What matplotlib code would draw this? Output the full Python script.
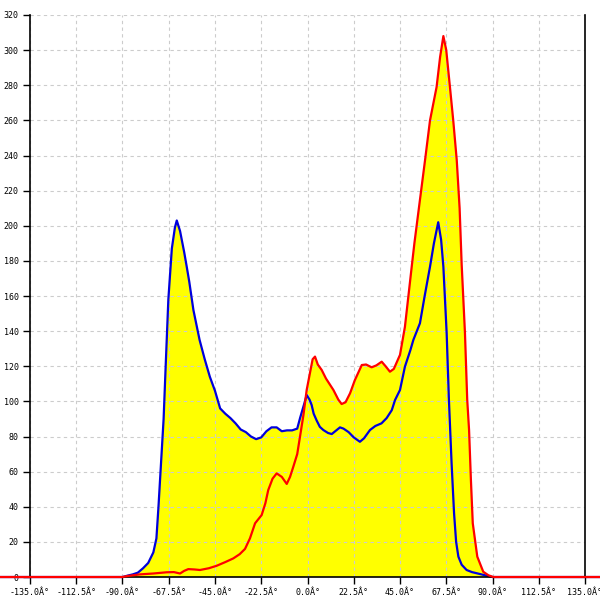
import numpy as np
import matplotlib
matplotlib.use("Agg")
import matplotlib.pyplot as plt

# Blue series (angle in degrees, count)
blue_x = [-180, -90, -87.5, -85, -82.5, -80, -77.5, -75, -73.5, -72.5, -71, -70, -69, -67.7, -66,
          -64.5, -63.6, -62, -60, -58.8, -57.5, -55.5, -52.5, -50, -47.5, -45, -42.5, -40, -37.5,
          -35, -32.5, -30, -27.5, -25, -22.5, -20, -17.5, -15, -12.5, -10, -7.5, -5, -3.5, -1.5,
          -0.4, 1, 2, 3, 4.5, 6, 7.7, 10, 11.8, 14, 15.8, 17.5, 20, 22.5, 25.5, 27.5, 30.4, 33,
          36, 38.5, 41, 42.6, 45, 47.4, 50, 51.5, 54.7, 57, 59.6, 61.5, 63.6, 65, 66.1, 67.7,
          68.8, 70.1, 71.3, 72.3, 73.4, 75, 77.4, 80, 83.9, 87, 90, 180]
blue_y = [0, 0, 0.8, 1.5, 2.5, 5, 8, 14, 22, 40, 70, 90, 120, 158, 187,
          199, 203, 197, 185, 177, 168, 152, 135, 124, 114, 106, 96, 93, 90.5,
          87.5, 84, 82.5, 80, 78.5, 79.5, 83, 85.2, 85.2, 83, 83.5, 83.5, 84.5, 91, 99,
          103.6, 101, 98, 93, 89, 85.5, 83.7, 82, 81.4, 83.5, 85.2, 84.5, 82.5, 79.5, 77, 79, 83.7, 86,
          87.5, 90.5, 95, 100.8, 106.5, 119.8, 129, 135, 144.5, 160, 176.7, 190, 202, 192, 176.7, 138.8,
          100.8, 64.7, 36.3, 20, 11.6, 7, 4, 2.8, 1.7, 0.8, 0, 0]

# Red series (angle in degrees, count)
red_x = [-180, -90, -88, -81.5, -75, -68.5, -65, -62, -60, -58, -55, -52.3, -48, -44.2, -40,
         -36.1, -33, -30.4, -28, -25.5, -22.3, -20.5, -19.1, -17, -15, -12.5, -10.1, -8.5, -6.9,
         -5, -3.65, -2, -0.4, 1.5, 2.5, 3.65, 5, 6.9, 9, 12.6, 15, 16.6, 18.5, 20.7, 23, 26.4,
         28.5, 31.2, 33.5, 36.1, 38, 40.1, 42, 45, 47.4, 50.7, 52, 54.7, 57.2, 59.6, 62.8, 64.5,
         66.1, 67.5, 69.3, 70.9, 72.6, 74, 75, 76.6, 77.7, 78.6, 79.5, 80.4, 82.6, 85.5, 88, 90.4, 180]
red_y = [0, 0, 0.5, 1.5, 2, 2.7, 2.8, 2, 3.5, 4.5, 4.3, 4, 5, 6.4, 8.5,
         10.6, 13, 16, 22, 30.6, 35.3, 42, 49.5, 56, 59, 57, 53, 57, 62.8,
         70, 79.9, 92, 106.5, 118, 124, 125.5, 121, 117.9, 113, 106.5, 101, 98.5, 99.5, 104.6, 112, 120.7,
         121, 119.4, 120.5, 122.6, 120, 116.9, 118.5, 126.5, 142.5, 176.7, 190, 214.7, 237.5, 260, 279, 296,
         308, 300, 279, 260, 237.5, 210, 178, 139, 101, 83.7, 55.2, 30.6, 11.6, 3, 1, 0, 0]

x_ticks = [-135.0, -112.5, -90.0, -67.5, -45.0, -22.5, 0.0, 22.5, 45.0, 67.5, 90.0, 112.5, 135.0]
y_ticks = list(range(0, 321, 20))
x_tick_labels = [f"{v:.1f}\u00c2\u00b0" for v in x_ticks]

fig = plt.figure(figsize=(6, 6), dpi=100)
ax = fig.add_axes([0.05, 0.0383, 0.925, 0.9367])

ax.fill_between(blue_x, 0, blue_y, color="#ffff00", lw=0, zorder=1)
ax.fill_between(red_x, 0, red_y, color="#ffff00", lw=0, zorder=1)
ax.plot(blue_x, blue_y, color="#0000dd", lw=1.6, zorder=3, clip_on=False)
ax.plot(red_x, red_y, color="#ff0000", lw=1.6, zorder=4, clip_on=False)

ax.set_xlim(-135, 135)
ax.set_ylim(0, 320)
ax.set_xticks(x_ticks)
ax.set_xticklabels(x_tick_labels)
ax.set_yticks(y_ticks)
ax.set_yticklabels([str(v) for v in y_ticks])

ax.grid(True, color="#cccccc", linestyle=(0, (3, 3)), linewidth=0.8)
ax.set_axisbelow(False)
for sp in ["left", "right", "bottom"]:
    ax.spines[sp].set_color("black")
    ax.spines[sp].set_linewidth(1.2)
    ax.spines[sp].set_zorder(3.5)
ax.spines["top"].set_visible(False)

ax.tick_params(axis="both", direction="out", length=5, width=1, color="black",
               labelsize=6, pad=3)
for lbl in ax.get_xticklabels() + ax.get_yticklabels():
    lbl.set_family("DejaVu Sans Mono")

fig.savefig("out.png", dpi=100)
